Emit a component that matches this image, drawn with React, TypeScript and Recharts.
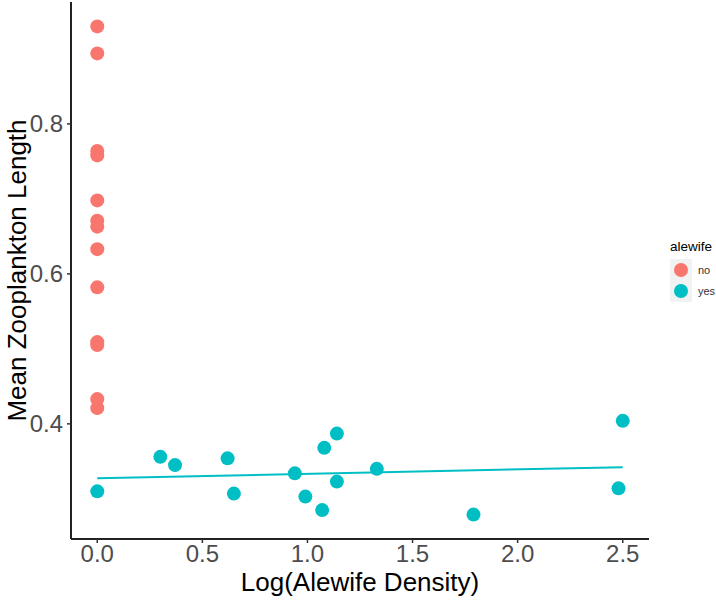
import React from 'react';
import { ScatterChart, Scatter, XAxis, YAxis, Legend, Label } from 'recharts';

// Lakes without alewife (all at zero density)
const noDensity = [0, 0, 0, 0, 0, 0, 0, 0, 0, 0, 0, 0, 0];
const noLength = [0.93, 0.894, 0.764, 0.758, 0.698, 0.671, 0.663, 0.633, 0.582, 0.509, 0.505, 0.433, 0.421];

// Lakes with alewife
const yesDensity = [0, 0.3, 0.37, 0.62, 0.65, 0.94, 0.99, 1.07, 1.08, 1.14, 1.14, 1.33, 1.79, 2.48, 2.5];
const yesLength = [0.31, 0.356, 0.345, 0.354, 0.307, 0.334, 0.303, 0.285, 0.368, 0.387, 0.323, 0.34, 0.279, 0.314, 0.404];

const groups = ['no', 'yes'];
const groupColors = ['#F8766D', '#00BFC4'];

const xTicks = [0, 0.5, 1, 1.5, 2, 2.5];
const yTicks = [0.4, 0.6, 0.8];

const FONT = '"Liberation Sans", Arial, sans-serif';

const noData = noDensity.map((x, i) => ({ x, y: noLength[i] }));
const yesData = yesDensity.map((x, i) => ({ x, y: yesLength[i] }));

// Ordinary least-squares fit for the "yes" group, drawn across its x range
function linearFit(xs: number[], ys: number[]) {
  const n = xs.length;
  const mx = xs.reduce((a, b) => a + b, 0) / n;
  const my = ys.reduce((a, b) => a + b, 0) / n;
  let sxy = 0;
  let sxx = 0;
  for (let i = 0; i < n; i++) {
    sxy += (xs[i] - mx) * (ys[i] - my);
    sxx += (xs[i] - mx) * (xs[i] - mx);
  }
  const slope = sxy / sxx;
  const intercept = my - slope * mx;
  const x0 = Math.min(...xs);
  const x1 = Math.max(...xs);
  return [
    { x: x0, y: intercept + slope * x0 },
    { x: x1, y: intercept + slope * x1 },
  ];
}
const fitData = linearFit(yesDensity, yesLength);

// Continuous scale with 5% padding on each side
function expanded(values: number[]): [number, number] {
  const lo = Math.min(...values);
  const hi = Math.max(...values);
  const pad = (hi - lo) * 0.05;
  return [lo - pad, hi + pad];
}
const xDomain = expanded([...noDensity, ...yesDensity]);
const yDomain = expanded([...noLength, ...yesLength]);

const dot = (color: string) => (props: any) =>
  <circle cx={props.cx} cy={props.cy} r={7} fill={color} />;

const renderLegend = () => (
  <div style={{ fontFamily: FONT }}>
    <div style={{ fontSize: 13.5, color: '#000', height: 20, lineHeight: '16px' }}>alewife</div>
    {groups.map((g, i) => (
      <div key={g} style={{ display: 'flex', alignItems: 'center', height: 21.5 }}>
        <div
          style={{
            width: 22,
            height: 21.5,
            background: '#F2F2F2',
            display: 'flex',
            alignItems: 'center',
            justifyContent: 'center',
          }}
        >
          <div style={{ width: 14, height: 14, borderRadius: 7, background: groupColors[i] }} />
        </div>
        <span style={{ marginLeft: 6, fontSize: 11, color: '#333' }}>{g}</span>
      </div>
    ))}
  </div>
);

export default function App() {
  return (
    <div style={{ position: 'absolute', left: 0, top: 0, width: 716, height: 601, background: '#fff' }}>
      <ScatterChart width={716} height={601} margin={{ top: 2, right: 67, bottom: 0, left: 0 }}>
        <XAxis
          type="number"
          dataKey="x"
          domain={xDomain}
          ticks={xTicks}
          allowDataOverflow
          tickFormatter={(v: number) => v.toFixed(1)}
          height={62}
          axisLine={{ stroke: '#222', strokeWidth: 2 }}
          tickLine={{ stroke: '#333', strokeWidth: 1.5 }}
          tickSize={4}
          tickMargin={2}
          tick={{ fill: '#4D4D4D', fontSize: 24, fontFamily: FONT }}
        >
          <Label
            value="Log(Alewife Density)"
            position="insideBottom"
            offset={10}
            style={{ fill: '#000', fontSize: 26, fontFamily: FONT }}
          />
        </XAxis>
        <YAxis
          type="number"
          dataKey="y"
          domain={yDomain}
          ticks={yTicks}
          allowDataOverflow
          tickFormatter={(v: number) => v.toFixed(1)}
          width={71}
          axisLine={{ stroke: '#222', strokeWidth: 2 }}
          tickLine={{ stroke: '#333', strokeWidth: 1.5 }}
          tickSize={4}
          tickMargin={4}
          tick={{ fill: '#4D4D4D', fontSize: 24, fontFamily: FONT }}
        >
          <Label
            value="Mean Zooplankton Length"
            angle={-90}
            position="insideLeft"
            offset={17}
            style={{ fill: '#000', fontSize: 26, fontFamily: FONT, textAnchor: 'middle' }}
          />
        </YAxis>
        <Legend
          layout="horizontal"
          align="center"
          verticalAlign="middle"
          content={renderLegend}
          wrapperStyle={{ left: 670, top: 239, width: 46, height: 70 }}
        />
        <Scatter name="no" data={noData} fill={groupColors[0]} shape={dot(groupColors[0])} isAnimationActive={false} />
        <Scatter name="yes" data={yesData} fill={groupColors[1]} shape={dot(groupColors[1])} isAnimationActive={false} />
        <Scatter
          name="fit"
          data={fitData}
          legendType="none"
          line={{ stroke: groupColors[1], strokeWidth: 2 }}
          shape={() => null}
          isAnimationActive={false}
        />
      </ScatterChart>
    </div>
  );
}
